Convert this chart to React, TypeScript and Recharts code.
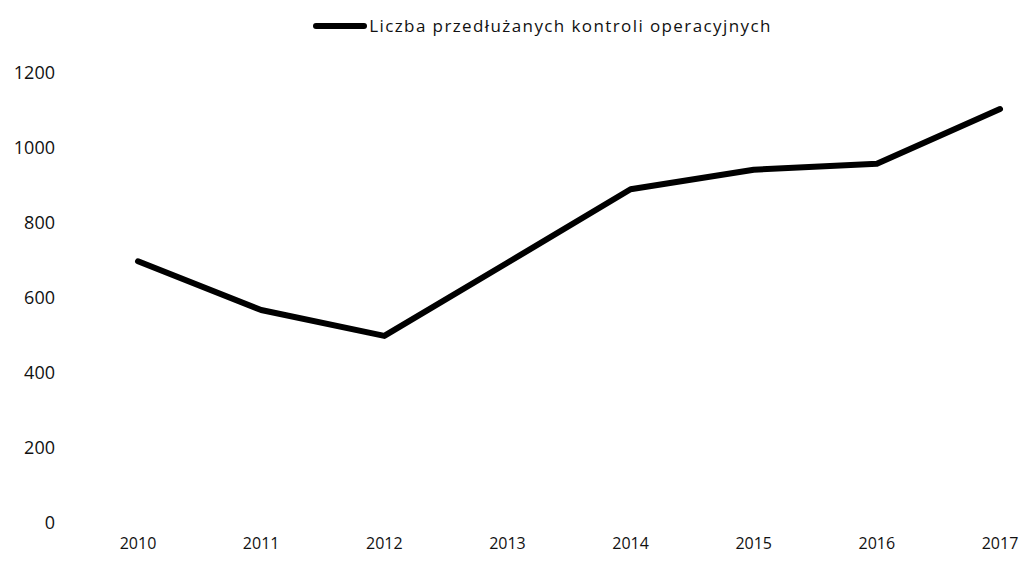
import React from 'react';
import { LineChart, Line, XAxis, YAxis } from 'recharts';

const years = ['2010', '2011', '2012', '2013', '2014', '2015', '2016', '2017'];
const values = [698, 568, 499, 694, 890, 942, 958, 1104];
const yTicks = [0, 200, 400, 600, 800, 1000, 1200];
const seriesName = 'Liczba przedłużanych kontroli operacyjnych';

const data = years.map((y, i) => ({ year: y, value: values[i] }));

const FONT = '"Open Sans", "Noto Sans", sans-serif';

export default function App() {
  return (
    <div style={{ position: 'absolute', left: 0, top: 0, width: 1026, height: 561, background: '#fff' }}>
      <div
        style={{
          position: 'absolute', left: 0, top: 14, width: 1026, display: 'flex', alignItems: 'center',
          justifyContent: 'center', fontFamily: FONT, fontSize: 17, color: '#111', letterSpacing: 1.4, zIndex: 2,
          paddingLeft: 59, boxSizing: 'border-box',
        }}
      >
        <div style={{ width: 54, height: 6, background: '#000', borderRadius: 3, marginRight: 2 }} />
        <span>{seriesName}</span>
      </div>
      <LineChart width={1026} height={561} data={data} margin={{ top: 73, right: 0, bottom: 0, left: 0 }}>
        <XAxis
          dataKey="year"
          axisLine={false}
          tickLine={false}
          tickSize={0}
          tickMargin={15}
          height={38}
          padding={{ left: 78, right: 26 }}
          tick={{ fill: '#111', fontSize: 16, fontFamily: FONT }}
          interval={0}
        />
        <YAxis
          domain={[0, 1200]}
          ticks={yTicks}
          axisLine={false}
          tickLine={false}
          tickSize={0}
          tickMargin={5}
          width={60}
          tick={{ fill: '#111', fontSize: 18, fontFamily: FONT }}
        />
        <Line
          type="linear"
          dataKey="value"
          name={seriesName}
          stroke="#000"
          strokeWidth={6}
          strokeLinecap="round"
          strokeLinejoin="round"
          dot={false}
          activeDot={false}
          isAnimationActive={false}
        />
      </LineChart>
    </div>
  );
}
